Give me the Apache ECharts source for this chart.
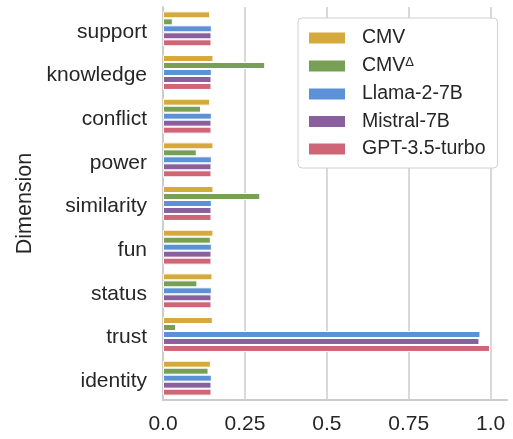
<!DOCTYPE html>
<html>
<head>
<meta charset="utf-8">
<script src="https://cdn.jsdelivr.net/npm/echarts@6/dist/echarts.min.js"></script>
<style>
  html, body { margin: 0; padding: 0; background: #fff; }
  #chart { width: 513px; height: 439px; }
</style>
</head>
<body>
<div id="chart"></div>
<script>
// dimensions, top to bottom
const dimensions = ['support', 'knowledge', 'conflict', 'power', 'similarity', 'fun', 'status', 'trust', 'identity'];

const seriesNames = ['CMV', 'CMVΔ', 'Llama-2-7B', 'Mistral-7B', 'GPT-3.5-turbo'];
const seriesColors = ['#d6a93c', '#77a056', '#5b91d6', '#8a5f9e', '#cf6677'];

const cmv = [0.144, 0.154, 0.144, 0.154, 0.154, 0.154, 0.151, 0.152, 0.146];
const cmvDelta = [0.030, 0.312, 0.116, 0.103, 0.297, 0.146, 0.105, 0.040, 0.139];
const llama = [0.149, 0.149, 0.149, 0.149, 0.149, 0.149, 0.149, 0.969, 0.149];
const mistral = [0.148, 0.148, 0.148, 0.148, 0.148, 0.148, 0.148, 0.966, 0.148];
const gpt = [0.148, 0.148, 0.148, 0.148, 0.148, 0.148, 0.148, 0.998, 0.148];

const xTicks = ['0.0', '0.25', '0.5', '0.75', '1.0'];

const allValues = [cmv, cmvDelta, llama, mistral, gpt];

const chart = echarts.init(document.getElementById('chart'));
const fontFamily = '"Liberation Sans", Arial, Helvetica, sans-serif';
const textColor = '#262626';

const option = {
    animation: false,
    backgroundColor: '#fff',
    grid: { left: 163, right: 6, top: 7, bottom: 39, containLabel: false },
    legend: {
        orient: 'vertical',
        left: 298,
        top: 18,
        padding: [10, 12, 9, 9],
        borderColor: '#d0d0d0',
        borderWidth: 1,
        borderRadius: 4,
        backgroundColor: '#fff',
        icon: 'rect',
        itemWidth: 38,
        itemHeight: 13,
        itemGap: 7.5,
        data: seriesNames,
        formatter: name => name === 'CMVΔ' ? '{t|CMV}{s|Δ}' : '{t|' + name + '}',
        textStyle: {
            padding: [0, 0, 0, 11],
            rich: {
                t: { fontSize: 19.5, lineHeight: 21, color: textColor, fontFamily: fontFamily },
                s: { fontSize: 13, lineHeight: 21, color: textColor, fontFamily: fontFamily, verticalAlign: 'top', padding: [0, 0, 8, 0] }
            }
        }
    },
    xAxis: {
        type: 'value',
        min: 0,
        max: 1.05,
        interval: 0.25,
        axisLine: { show: true, lineStyle: { color: '#cccccc', width: 2 } },
        axisTick: { show: false },
        splitLine: { show: true, showMaxLine: false, lineStyle: { color: '#cccccc', width: 1.5 } },
        axisLabel: {
            showMaxLabel: false,
            fontSize: 21,
            color: textColor,
            fontFamily: fontFamily,
            margin: 14,
            formatter: v => {
                const i = Math.round(v / 0.25);
                return xTicks[i] !== undefined ? xTicks[i] : '';
            }
        }
    },
    yAxis: {
        type: 'category',
        inverse: true,
        data: dimensions,
        name: 'Dimension',
        nameLocation: 'middle',
        nameGap: 126,
        nameRotate: 90,
        nameTextStyle: { fontSize: 21.5, color: textColor, fontFamily: fontFamily },
        axisLine: { show: true, lineStyle: { color: '#cccccc', width: 2 } },
        axisTick: { show: false },
        splitLine: { show: false },
        axisLabel: {
            margin: 16,
            formatter: v => '{d|' + v + '}',
            rich: {
                d: { fontSize: 21, color: textColor, fontFamily: fontFamily, height: 30, lineHeight: 30, padding: [6, 0, 0, 0] }
            }
        }
    },
    series: seriesNames.map((name, i) => ({
        name: name,
        type: 'bar',
        data: allValues[i],
        barGap: '0%',
        barCategoryGap: '20%',
        itemStyle: { color: seriesColors[i], borderColor: '#fff', borderWidth: 1 }
    }))
};

chart.setOption(option);
</script>
</body>
</html>
